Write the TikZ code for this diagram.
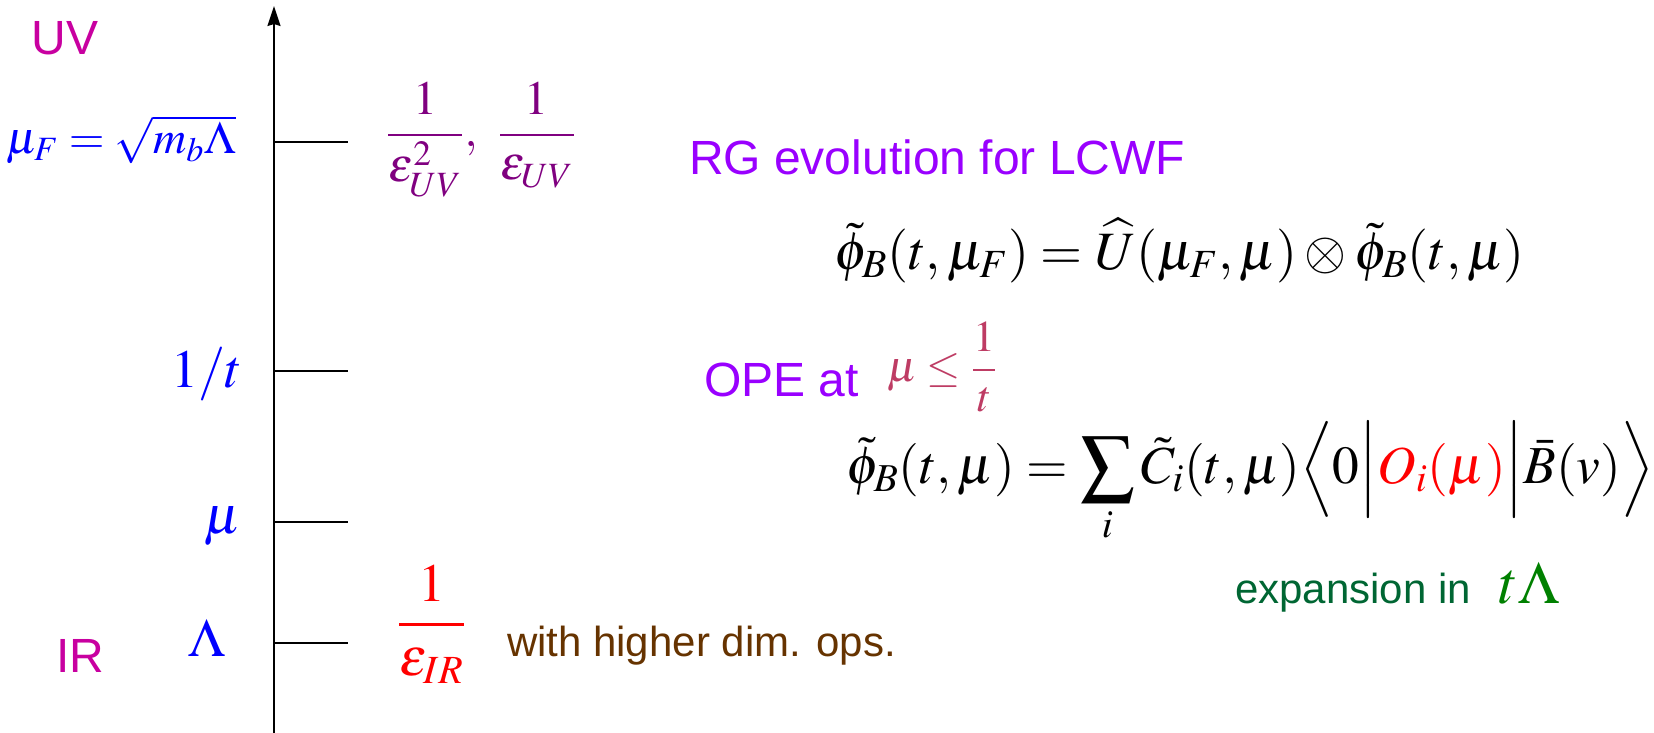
\documentclass[tikz,border=0pt]{standalone}
\usepackage{mathptmx}
\usepackage{fontspec}
\newfontfamily\arialfont{Liberation Sans}
\usetikzlibrary{arrows.meta}

\definecolor{uvir}{RGB}{200,0,160}
\definecolor{divuv}{RGB}{128,0,128}
\definecolor{headviolet}{RGB}{153,0,255}
\definecolor{rosecond}{RGB}{190,60,100}
\definecolor{opsbrown}{RGB}{102,51,0}
\definecolor{expgreen}{RGB}{0,102,51}
\definecolor{mathgreen}{RGB}{0,128,0}

\begin{document}
\begin{tikzpicture}[x=0.5pt,y=-0.5pt,line width=1pt,inner sep=0pt,
    sansbig/.style={font=\arialfont\fontsize{24}{28}\selectfont},
    sanssmall/.style={font=\arialfont\fontsize{21}{25}\selectfont},
    scalelabel/.style={text=blue,font=\fontsize{27}{32}\selectfont},
    eqtext/.style={font=\fontsize{27}{32}\selectfont}]
  \useasboundingbox (0,0) rectangle (1654,733);
  % energy axis
  \coordinate (axbot) at (274,733);
  \coordinate (axtop) at (274,6);
  \draw[->,>={Stealth[length=10pt,width=6.5pt,inset=1pt]}] (axbot) -- (axtop);
  \node[sansbig,text=uvir,anchor=base] (uv) at (65,55) {UV};
  \node[sansbig,text=uvir,anchor=base] (ir) at (80,672) {IR};
  % scales on the axis
  \coordinate (sF) at (274,142);
  \coordinate (st) at (274,371);
  \coordinate (smu) at (274,522);
  \coordinate (sL) at (274,643);
  \draw (sF) -- ++(74,0);
  \draw (st) -- ++(74,0);
  \draw (smu) -- ++(74,0);
  \draw (sL) -- ++(74,0);
  \node[scalelabel,font=\fontsize{23}{28}\selectfont,anchor=base east] (muF) at (237,154) {$\mu_F=\sqrt{m_b\Lambda}$};
  \node[scalelabel,anchor=base] (invt) at (207,387) {$1/t$};
  \node[scalelabel,anchor=base] (mu) at (223,533) {$\mu$};
  \node[scalelabel,anchor=base] (lam) at (207,656) {$\Lambda$};
  % divergences
  \node[text=divuv,font=\fontsize{24}{28}\selectfont,anchor=base west] (divUV) at (385,147)
    {$\displaystyle\frac{1}{\varepsilon_{UV}^{2}},\ \frac{1}{\varepsilon_{UV}}$};
  \node[text=red,font=\fontsize{27}{32}\selectfont,anchor=base west] (divIR) at (396,638)
    {$\displaystyle\frac{1}{\varepsilon_{IR}}$};
  \node[sanssmall,text=opsbrown,anchor=base west] (ops) at (506,656) {with higher dim. ops.};
  % RG evolution
  \node[sansbig,text=headviolet,anchor=base west] (rg) at (688,174) {RG evolution for LCWF};
  \node[eqtext,anchor=base west] (rgeq) at (833,269)
    {$\tilde{\phi}_B(t,\mu_F)=\widehat{U}(\mu_F,\mu)\otimes\tilde{\phi}_B(t,\mu)$};
  % OPE
  \node[sansbig,text=headviolet,anchor=base west] (ope) at (703,396) {OPE at};
  \node[text=rosecond,font=\fontsize{22}{26}\selectfont,anchor=base west] (opecond) at (886,381)
    {$\displaystyle\mu\le\frac{1}{t}$};
  \node[eqtext,font=\fontsize{26.7}{32}\selectfont,anchor=base west] (opeeq) at (845,483)
    {$\displaystyle\tilde{\phi}_B(t,\mu)=\sum_i\tilde{C}_i(t,\mu)\Big\langle 0\Big|{\color{red}O_i(\mu)}\Big|\bar{B}(v)\Big\rangle$};
  \node[sanssmall,text=expgreen,anchor=base west] (exp) at (1234,603)
    {expansion in\hspace{14pt}{\color{mathgreen}\fontsize{30}{36}\selectfont$t\Lambda$}};
\end{tikzpicture}
\end{document}
